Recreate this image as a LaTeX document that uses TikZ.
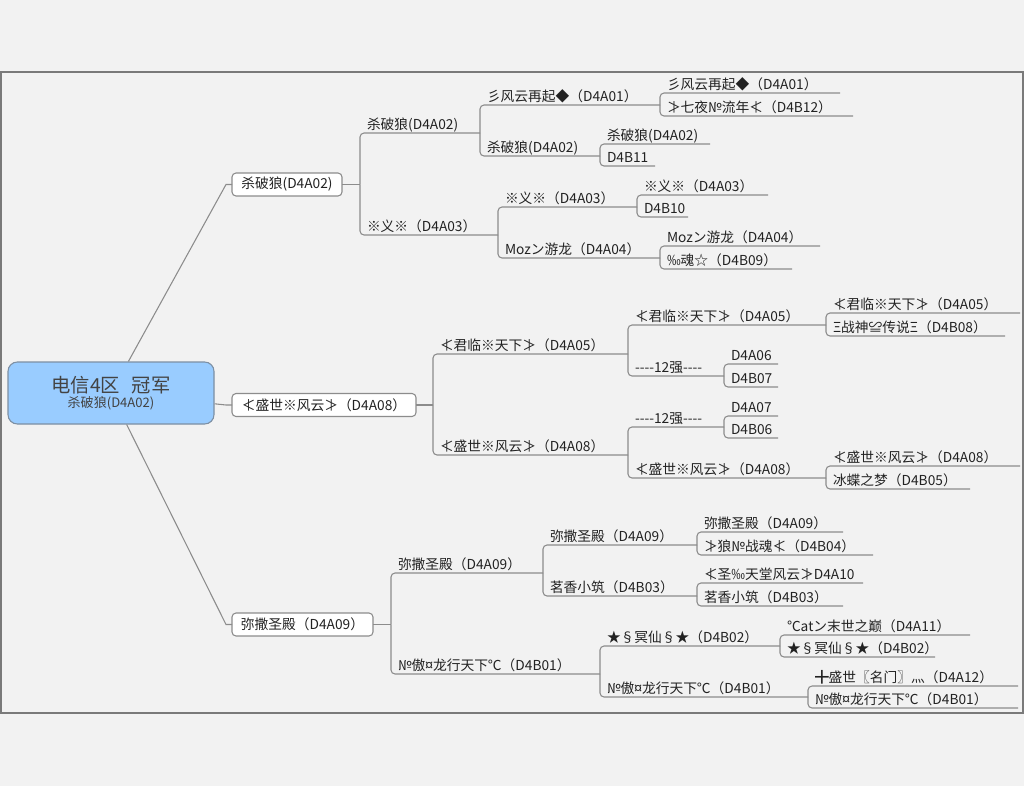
\documentclass[tikz,border=0pt]{standalone}
\usepackage{fontspec}
\setmainfont{Noto Sans CJK SC}
\definecolor{bg}{HTML}{F2F2F2}
\definecolor{framec}{HTML}{7A7A7A}
\definecolor{ln}{HTML}{8C8C8C}
\definecolor{rootfill}{HTML}{99CCFF}
\definecolor{rootdraw}{HTML}{7D8FA3}
\definecolor{txt}{HTML}{222222}
\tikzset{
  itm/.style={anchor=south west, inner xsep=0pt, inner ysep=0.75pt, outer sep=0pt,
    align=left, text depth=2pt, text height=8pt, text=txt,
    font=\fontsize{10.3}{12}\selectfont},
  lvlbox/.style={draw=ln, fill=white, rounded corners=3pt, line width=0.8pt,
    minimum height=17.25pt, inner sep=0pt, outer sep=0pt, text=txt,
    font=\fontsize{10.3}{12}\selectfont},
  conn/.style={draw=ln, line width=0.8pt, rounded corners=3pt},
  spoke/.style={draw=ln, line width=0.8pt},
}
\newcommand\itm[5]{%
  \pgfmathsetmacro\itmw{(#4-#2)*0.75}%
  \node[itm, text width=\itmw pt] (#1) at (#2,#3) {\hspace*{5.25pt}#5};}
\begin{document}
\begin{tikzpicture}[x=0.75pt,y=-0.75pt]
\useasboundingbox (0,0) rectangle (1024,786);
\fill[bg] (0,0) rectangle (1024,786);
\draw[framec, line width=1.1pt, fill=bg] (1,72) rectangle (1023,713);

% root
\node[draw=rootdraw, fill=rootfill, rounded corners=7pt, line width=0.8pt,
  minimum width=154.5pt, minimum height=46.5pt, inner sep=0pt, align=center,
  text=txt!85!white] (root) at (111,393)
  {{\fontsize{14.5}{15}\selectfont 电信4区\hspace{0.6em}冠军}\\[-1pt]{\fontsize{9.8}{11}\selectfont 杀破狼(D4A02)}};

% level 1 boxes
\node[lvlbox, minimum width=82.5pt] (b1) at (287,184.5) {杀破狼(D4A02)};
\node[lvlbox, minimum width=138pt] (b2) at (324,405) {≮盛世※风云≯（D4A08）};
\node[lvlbox, minimum width=105.75pt] (b3) at (302.5,624.5) {弥撒圣殿（D4A09）};

\coordinate (k1) at (226,184.5);
\coordinate (k2) at (226,405);
\coordinate (k3) at (226,624.5);
\draw[spoke] (root) -- (k1) -- (b1.west);
\draw[spoke] (root) -- (k2) -- (b2.west);
\draw[spoke] (root) -- (k3) -- (b3.west);

\coordinate (j1) at (360,184.5);
\coordinate (j2) at (433,405);
\coordinate (j3) at (391,624.5);

% branch 1
\itm{a1}{360}{133}{480}{杀破狼(D4A02)}
\itm{a2}{360}{235}{498}{※义※（D4A03）}
\itm{a11}{480}{105}{660}{彡风云再起◆（D4A01）}
\itm{a12}{480}{156}{600}{杀破狼(D4A02)}
\itm{a111}{660}{93}{840}{彡风云再起◆（D4A01）}
\itm{a112}{660}{116}{853}{≯七夜№流年≮（D4B12）}
\itm{a121}{600}{144}{710}{杀破狼(D4A02)}
\itm{a122}{600}{166}{655}{D4B11}
\itm{a21}{498}{207}{637}{※义※（D4A03）}
\itm{a22}{498}{258}{660}{Mozン游龙（D4A04）}
\itm{a211}{637}{195}{768}{※义※（D4A03）}
\itm{a212}{637}{217}{688}{D4B10}
\itm{a221}{660}{246}{820}{Mozン游龙（D4A04）}
\itm{a222}{660}{269}{792}{‰魂☆（D4B09）}

% branch 2
\itm{c1}{433}{354}{628}{≮君临※天下≯（D4A05）}
\itm{c2}{433}{455}{628}{≮盛世※风云≯（D4A08）}
\itm{c11}{628}{325}{826}{≮君临※天下≯（D4A05）}
\itm{c12}{628}{376}{724}{-{}-{}-{}-12强-{}-{}-{}-}
\itm{c111}{826}{313}{1020}{≮君临※天下≯（D4A05）}
\itm{c112}{826}{336}{1005}{Ξ战神≌传说Ξ（D4B08）}
\itm{c121}{724}{364}{778}{D4A06}
\itm{c122}{724}{387}{778}{D4B07}
\itm{c21}{628}{427}{724}{-{}-{}-{}-12强-{}-{}-{}-}
\itm{c22}{628}{478}{826}{≮盛世※风云≯（D4A08）}
\itm{c211}{724}{416}{778}{D4A07}
\itm{c212}{724}{438}{778}{D4B06}
\itm{c221}{826}{466}{1020}{≮盛世※风云≯（D4A08）}
\itm{c222}{826}{489}{970}{冰蝶之梦（D4B05）}

% branch 3
\itm{d1}{391}{573}{543}{弥撒圣殿（D4A09）}
\itm{d2}{391}{674}{600}{№傲¤龙行天下℃（D4B01）}
\itm{d11}{543}{545}{697}{弥撒圣殿（D4A09）}
\itm{d12}{543}{596}{697}{茗香小筑（D4B03）}
\itm{d111}{697}{532}{843}{弥撒圣殿（D4A09）}
\itm{d112}{697}{555}{873}{≯狼№战魂≮（D4B04）}
\itm{d121}{697}{583}{863}{≮圣‰天堂风云≯D4A10}
\itm{d122}{697}{606}{843}{茗香小筑（D4B03）}
\itm{d21}{600}{646}{780}{★§冥仙§★（D4B02）}
\itm{d22}{600}{697}{808}{№傲¤龙行天下℃（D4B01）}
\itm{d211}{780}{635}{970}{℃atン末世之巅（D4A11）}
\itm{d212}{780}{657}{935}{★§冥仙§★（D4B02）}
\itm{d221}{808}{686}{1018}{╋盛世〖名门〗灬（D4A12）}
\itm{d222}{808}{708}{1018}{№傲¤龙行天下℃（D4B01）}

% junction stubs
\draw[spoke] (b1.east) -- (j1);
\draw[spoke] (b2.east) -- (j2);
\draw[spoke] (b3.east) -- (j3);
\foreach \j/\c in {j1/a1, j1/a2, j2/c1, j2/c2, j3/d1, j3/d2}
  \draw[conn] (\j) |- (\c.south east);
\foreach \p/\c in {a1/a11, a1/a12, a11/a111, a11/a112, a12/a121, a12/a122,
    a2/a21, a2/a22, a21/a211, a21/a212, a22/a221, a22/a222,
    c1/c11, c1/c12, c11/c111, c11/c112, c12/c121, c12/c122,
    c2/c21, c2/c22, c21/c211, c21/c212, c22/c221, c22/c222,
    d1/d11, d1/d12, d11/d111, d11/d112, d12/d121, d12/d122,
    d2/d21, d2/d22, d21/d211, d21/d212, d22/d221, d22/d222}
  \draw[conn] (\p.south east) |- (\c.south east);
\end{tikzpicture}
\end{document}
